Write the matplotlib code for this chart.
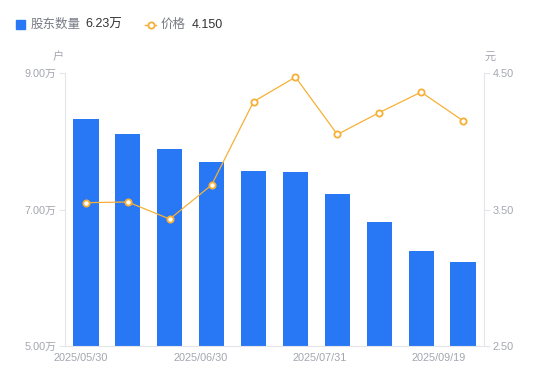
import matplotlib
matplotlib.use('Agg')
import matplotlib.pyplot as plt
from matplotlib.lines import Line2D
from matplotlib.patches import Rectangle
import numpy as np

plt.rcParams['font.family'] = ['Liberation Sans', 'Noto Sans CJK SC', 'DejaVu Sans']

# 数据
dates = ['2025/05/30', '2025/06/30', '2025/07/31', '2025/09/19']
holders = [8.33, 8.11, 7.89, 7.70, 7.56, 7.55, 7.23, 6.82, 6.39, 6.23]  # 万户
price = [3.55, 3.555, 3.43, 3.68, 4.29, 4.47, 4.05, 4.21, 4.36, 4.15]
left_ticks = [5.0, 7.0, 9.0]
right_ticks = [2.5, 3.5, 4.5]

bar_color = '#2878f5'
line_color = '#f7b036'
axis_color = '#e3e5ea'
tick_color = '#a3a6b0'

fig = plt.figure(figsize=(5.5, 3.81), dpi=100)
ax = fig.add_axes([65 / 550, 35 / 381, 419 / 550, 273 / 381])
x = np.arange(len(holders))
ax.bar(x, holders, width=0.6, color=bar_color, zorder=2)
ax.set_xlim(-0.5, len(holders) - 0.5)
ax.set_ylim(5.0, 9.0)
ax.set_yticks(left_ticks)
ax.set_yticklabels(['%.2f万' % v for v in left_ticks])

ax2 = ax.twinx()
ax2.plot(x, price, color=line_color, lw=0.9, marker='o', ms=4.5,
         mfc='white', mec=line_color, mew=1.3, zorder=3)
ax2.set_ylim(2.5, 4.5)
ax2.set_yticks(right_ticks)
ax2.set_yticklabels(['%.2f' % v for v in right_ticks])

# x 轴标签 (均匀分布)
ax.set_xticks(np.linspace(-0.12, 8.42, len(dates)))
ax.set_xticklabels(dates)

for a in (ax, ax2):
    for s in a.spines.values():
        s.set_visible(False)
    a.tick_params(colors=tick_color, labelsize=7.8, length=0, pad=3)
ax.spines['left'].set_visible(True)
ax.spines['left'].set_color(axis_color)
ax.spines['bottom'].set_visible(True)
ax.spines['bottom'].set_color(axis_color)
ax2.spines['right'].set_visible(True)
ax2.spines['right'].set_color(axis_color)
ax.tick_params(axis='y', length=4, color=axis_color, pad=2)
ax2.tick_params(axis='y', length=4, color=axis_color, pad=2)
ax.tick_params(axis='x', pad=5)

# 单位
fig.text(58 / 550, 1 - 57 / 381, '户', fontsize=8, color=tick_color, ha='center', va='center')
fig.text(490 / 550, 1 - 57 / 381, '元', fontsize=8, color=tick_color, ha='center', va='center')

# 图例
fig.add_artist(Rectangle((16 / 550, 1 - 29 / 381), 9 / 550, 9 / 381,
                         color=bar_color, transform=fig.transFigure))
fig.text(31 / 550, 1 - 24.5 / 381, '股东数量', fontsize=9, color='#777a85', va='center')
fig.text(85 / 550, 1 - 24.5 / 381, '%.2f万' % holders[-1], fontsize=9, color='#333333', va='center')
fig.add_artist(Line2D([145 / 550, 156 / 550], [1 - 24.5 / 381, 1 - 24.5 / 381],
                      color=line_color, lw=1, transform=fig.transFigure))
fig.add_artist(Line2D([150.5 / 550], [1 - 24.5 / 381], color=line_color, marker='o',
                      ms=4.5, mfc='white', mec=line_color, mew=1.3,
                      transform=fig.transFigure))
fig.text(161 / 550, 1 - 24.5 / 381, '价格', fontsize=9, color='#777a85', va='center')
fig.text(192 / 550, 1 - 24.5 / 381, '%.3f' % price[-1], fontsize=9, color='#333333', va='center')

fig.savefig('out.png', dpi=100)
